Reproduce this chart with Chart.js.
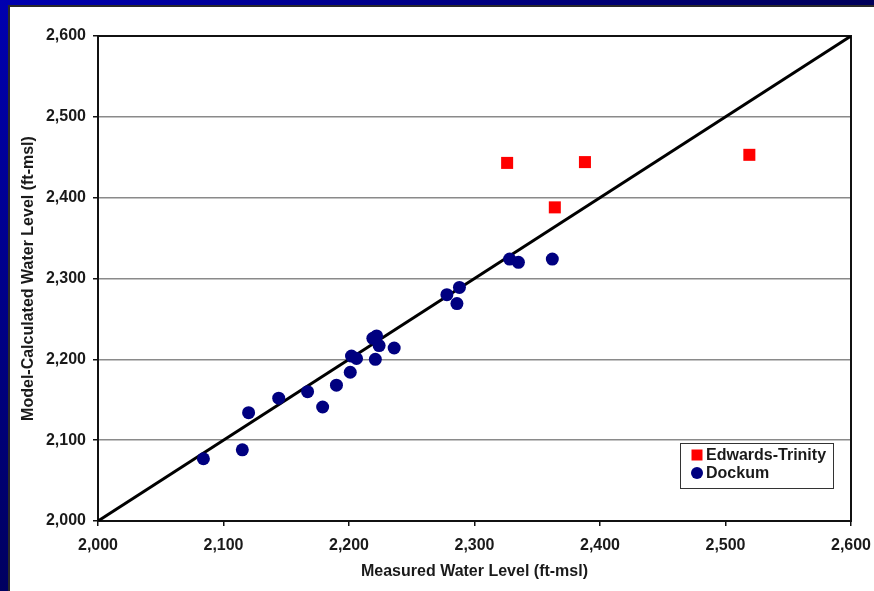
<!DOCTYPE html>
<html>
<head>
<meta charset="utf-8">
<script src="https://cdn.jsdelivr.net/npm/chart.js@4/dist/chart.umd.min.js"></script>
<style>
  html, body { margin: 0; padding: 0; }
  body {
    width: 874px; height: 591px; overflow: hidden;
    background: linear-gradient(to right, rgba(0,0,20,0) 0%, rgba(0,0,20,0.55) 100%),
                linear-gradient(to bottom, #0000b0 0%, #000060 100%);
  }
  #wrap {
    position: absolute; left: 8px; top: 5px;
    width: 866px; height: 586px;
    background: #fff;
    border-left: 2px solid #2a2a2a; border-top: 2px solid #2a2a2a;
    box-sizing: border-box;
  }
</style>
</head>
<body>
<div id="wrap"><canvas id="chart" width="864" height="584"></canvas></div>
<script>
const edwardsMeasured = [2326, 2388, 2364, 2519];
const edwardsModel    = [2443, 2444, 2388, 2453];

const dockumMeasured = [2084, 2115, 2120, 2144, 2167, 2179, 2190, 2201, 2202, 2206,
                        2221, 2219, 2222, 2224, 2236, 2278, 2288, 2286, 2328, 2335, 2362];
const dockumModel    = [2077, 2088, 2134, 2152, 2160, 2141, 2168, 2184, 2204, 2201,
                        2200, 2226, 2229, 2217, 2214, 2280, 2289, 2269, 2324, 2320, 2324];

// линия 1:1
const lineMeasured = [2000, 2600];
const lineModel    = [2000, 2600];

const axisMin = 2000;
const axisMax = 2600;
const axisStep = 100;

const legendLabels = ['Edwards-Trinity', 'Dockum'];

const toPoints = (xs, ys) => xs.map((x, i) => ({ x: x, y: ys[i] }));

Chart.defaults.font.family = "'Liberation Sans', Arial, sans-serif";
Chart.defaults.font.weight = 'bold';
Chart.defaults.color = '#1a1a1a';

// рамка области построения
const frame = {
    id: 'frame',
    beforeDatasetsDraw(chart) {
        const { ctx, chartArea: a } = chart;
        ctx.save();
        ctx.strokeStyle = '#111';
        ctx.lineWidth = 2;
        ctx.strokeRect(a.left, a.top, a.right - a.left, a.bottom - a.top);
        ctx.restore();
    }
};

// легенда внутри области построения, справа внизу
const boxLegend = {
    id: 'boxLegend',
    afterDraw(chart) {
        const { ctx, chartArea: a } = chart;
        const w = 153, h = 45;
        const x0 = a.right - 18 - w;
        const y0 = a.bottom - 33 - h;
        ctx.save();
        ctx.fillStyle = '#fff';
        ctx.fillRect(x0, y0, w, h);
        ctx.strokeStyle = '#333';
        ctx.lineWidth = 1;
        ctx.strokeRect(x0 + 0.5, y0 + 0.5, w, h);
        ctx.font = "bold 16px 'Liberation Sans', Arial, sans-serif";
        ctx.textBaseline = 'middle';
        legendLabels.forEach((label, i) => {
            const ds = chart.data.datasets[i];
            const cy = y0 + 12 + i * 18;
            const cx = x0 + 17;
            ctx.fillStyle = ds.backgroundColor;
            if (ds.pointStyle === 'rect') {
                ctx.fillRect(cx - 5.5, cy - 5.5, 11, 11);
            } else {
                ctx.beginPath();
                ctx.arc(cx, cy, 6, 0, Math.PI * 2);
                ctx.fill();
            }
            ctx.fillStyle = '#1a1a1a';
            ctx.fillText(label, x0 + 26, cy + 1);
        });
        ctx.restore();
    }
};

new Chart(document.getElementById('chart'), {
    type: 'scatter',
    data: {
        datasets: [
            {
                label: legendLabels[0],
                data: toPoints(edwardsMeasured, edwardsModel),
                pointStyle: 'rect',
                pointRadius: 8.5,
                pointHoverRadius: 8.5,
                backgroundColor: '#ff0000',
                borderWidth: 0,
                order: 1
            },
            {
                label: legendLabels[1],
                data: toPoints(dockumMeasured, dockumModel),
                pointStyle: 'circle',
                pointRadius: 6.5,
                pointHoverRadius: 6.5,
                backgroundColor: '#000080',
                borderWidth: 0,
                order: 2
            },
            {
                type: 'line',
                label: '1:1',
                data: toPoints(lineMeasured, lineModel),
                borderColor: '#000',
                borderWidth: 3,
                pointRadius: 0,
                fill: false,
                order: 3
            }
        ]
    },
    options: {
        responsive: false,
        animation: false,
        layout: { padding: { left: 0, top: 29, right: 23, bottom: 0 } },
        plugins: {
            legend: { display: false },
            tooltip: { enabled: false }
        },
        scales: {
            x: {
                type: 'linear',
                min: axisMin,
                max: axisMax,
                afterFit(s) {
                    s.height = 70;
                    s.paddingLeft = 0;
                    s.paddingRight = 0;
                },
                grid: { drawOnChartArea: false, drawTicks: true, tickLength: 5, tickColor: '#111', lineWidth: 1.5 },
                border: { color: '#111', width: 2 },
                ticks: {
                    stepSize: axisStep,
                    padding: 10,
                    font: { size: 16, weight: 'bold' },
                    color: '#1a1a1a',
                    maxRotation: 0
                },
                title: {
                    display: true,
                    text: 'Measured Water Level (ft-msl)',
                    font: { size: 16, weight: 'bold' },
                    color: '#1a1a1a',
                    padding: { top: 0, bottom: 10 }
                }
            },
            y: {
                type: 'linear',
                min: axisMin,
                max: axisMax,
                afterFit(s) {
                    s.width = 88;
                    s.paddingTop = 0;
                    s.paddingBottom = 0;
                },
                grid: { color: '#8a8a8a', lineWidth: 1.5, drawTicks: true, tickLength: 5, tickColor: '#111' },
                border: { color: '#111', width: 2 },
                ticks: {
                    stepSize: axisStep,
                    padding: 7,
                    font: { size: 16, weight: 'bold' },
                    color: '#1a1a1a'
                },
                title: {
                    display: true,
                    text: 'Model-Calculated Water Level (ft-msl)',
                    font: { size: 16, weight: 'bold' },
                    color: '#1a1a1a',
                    padding: { top: 9, bottom: 0 }
                }
            }
        }
    },
    plugins: [frame, boxLegend]
});
</script>
</body>
</html>
